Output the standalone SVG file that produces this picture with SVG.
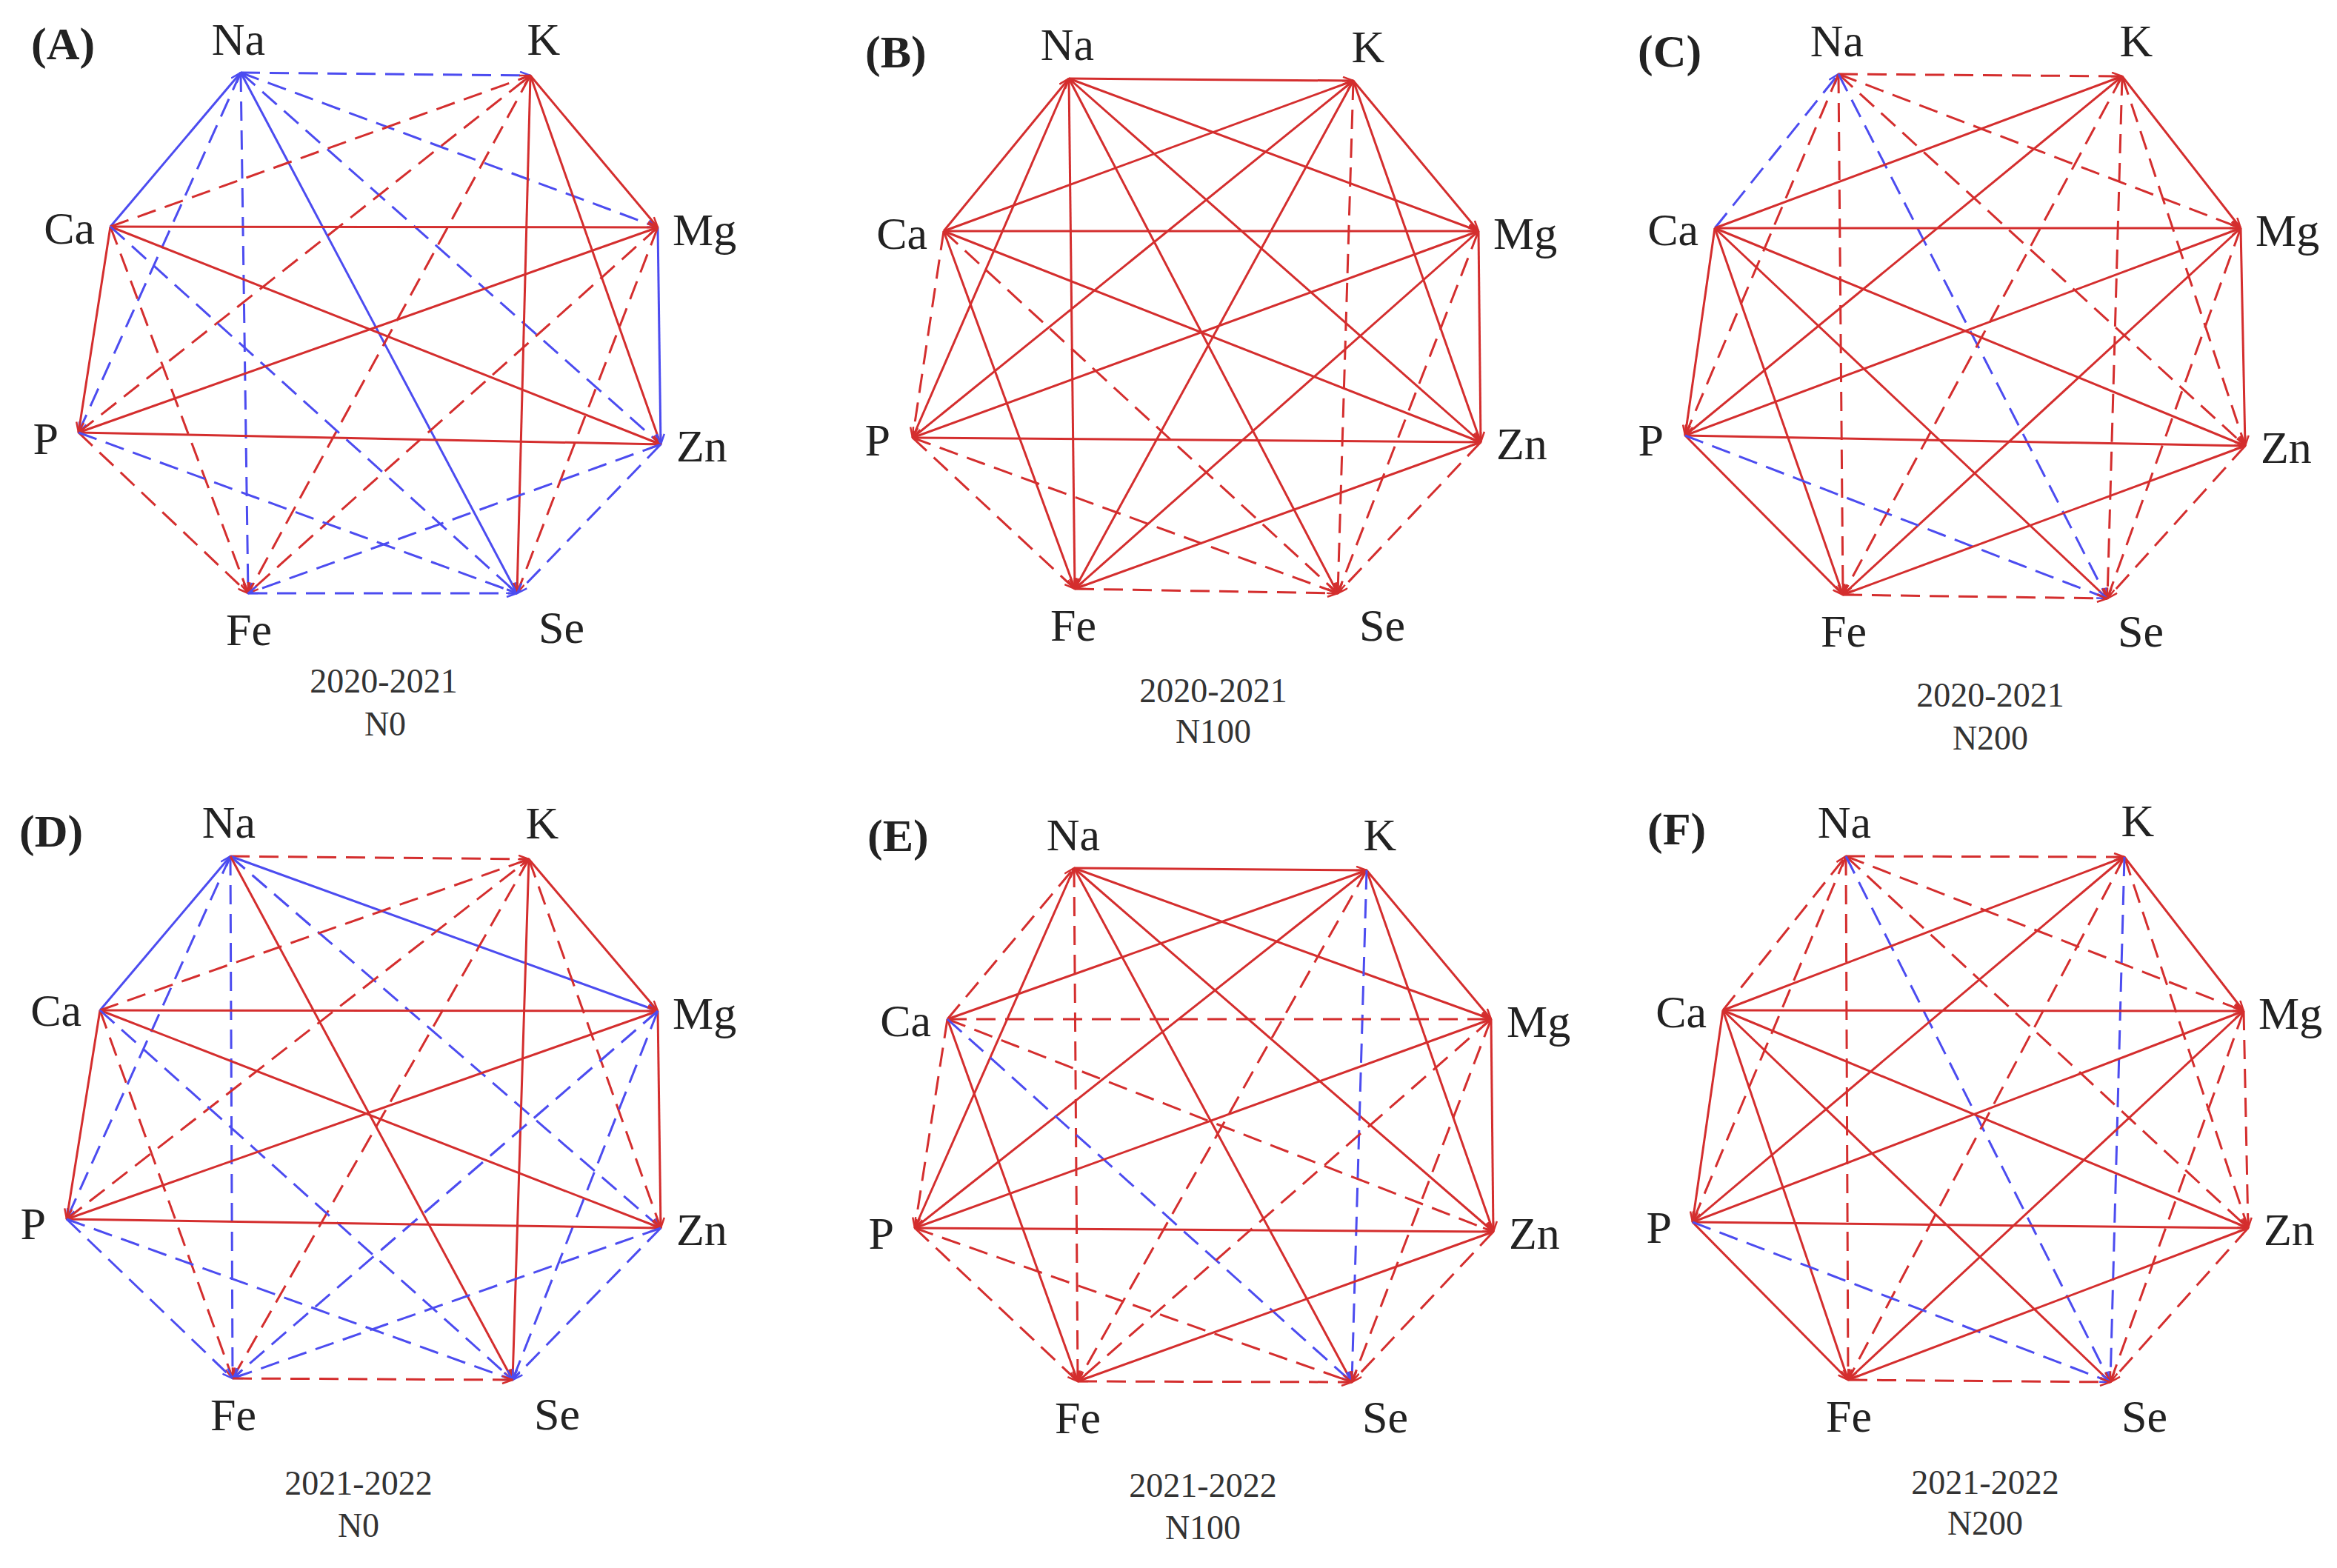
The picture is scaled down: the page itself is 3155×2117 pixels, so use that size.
<svg xmlns="http://www.w3.org/2000/svg" width="3155" height="2117" viewBox="0 0 3155 2117">
<style>
.r{stroke:#d42e2e;stroke-width:3;fill:none;marker-end:url(#ar)}
.rd{stroke:#d42e2e;stroke-width:3;fill:none;stroke-dasharray:26 13;marker-end:url(#ar)}
.b{stroke:#4c4cf0;stroke-width:3;fill:none;marker-end:url(#ab)}
.bd{stroke:#4c4cf0;stroke-width:3;fill:none;stroke-dasharray:26 13;marker-end:url(#ab)}
.lbl{font-family:"Liberation Serif","Times New Roman",serif;font-size:62px;fill:#222}
.pl{font-family:"Liberation Serif","Times New Roman",serif;font-size:62px;font-weight:bold;fill:#222}
.cap{font-family:"Liberation Serif","Times New Roman",serif;font-size:46px;fill:#333;text-anchor:middle}
</style>
<defs>
<marker id="ar" viewBox="0 0 16 12" refX="15" refY="6" markerWidth="16" markerHeight="12" markerUnits="userSpaceOnUse" orient="auto">
<path d="M1,1 L15,6 L1,11" fill="none" stroke="#d42e2e" stroke-width="2.5" stroke-dasharray="none"/>
</marker>
<marker id="ab" viewBox="0 0 16 12" refX="15" refY="6" markerWidth="16" markerHeight="12" markerUnits="userSpaceOnUse" orient="auto">
<path d="M1,1 L15,6 L1,11" fill="none" stroke="#4c4cf0" stroke-width="2.5" stroke-dasharray="none"/>
</marker>
</defs>
<rect width="3155" height="2117" fill="#ffffff"/>

<g id="connectors">
<g id="edges-A">
<line class="bd" x1="325" y1="98" x2="716" y2="102"/>
<line class="b" x1="149" y1="306" x2="325" y2="98"/>
<line class="bd" x1="325" y1="98" x2="888" y2="307"/>
<line class="bd" x1="325" y1="98" x2="106" y2="584"/>
<line class="bd" x1="325" y1="98" x2="892" y2="600"/>
<line class="bd" x1="325" y1="98" x2="335" y2="801"/>
<line class="b" x1="325" y1="98" x2="698" y2="801"/>
<line class="rd" x1="149" y1="306" x2="716" y2="102"/>
<line class="r" x1="716" y1="102" x2="888" y2="307"/>
<line class="rd" x1="106" y1="584" x2="716" y2="102"/>
<line class="r" x1="716" y1="102" x2="892" y2="600"/>
<line class="rd" x1="716" y1="102" x2="335" y2="801"/>
<line class="r" x1="716" y1="102" x2="698" y2="801"/>
<line class="r" x1="149" y1="306" x2="888" y2="307"/>
<line class="r" x1="149" y1="306" x2="106" y2="584"/>
<line class="r" x1="149" y1="306" x2="892" y2="600"/>
<line class="rd" x1="149" y1="306" x2="335" y2="801"/>
<line class="bd" x1="149" y1="306" x2="698" y2="801"/>
<line class="r" x1="106" y1="584" x2="888" y2="307"/>
<line class="b" x1="888" y1="307" x2="892" y2="600"/>
<line class="rd" x1="888" y1="307" x2="335" y2="801"/>
<line class="rd" x1="888" y1="307" x2="698" y2="801"/>
<line class="r" x1="106" y1="584" x2="892" y2="600"/>
<line class="rd" x1="106" y1="584" x2="335" y2="801"/>
<line class="bd" x1="106" y1="584" x2="698" y2="801"/>
<line class="bd" x1="892" y1="600" x2="335" y2="801"/>
<line class="bd" x1="892" y1="600" x2="698" y2="801"/>
<line class="bd" x1="335" y1="801" x2="698" y2="801"/>
</g>
<g id="edges-B">
<line class="r" x1="1443" y1="106" x2="1827" y2="109"/>
<line class="r" x1="1274" y1="312" x2="1443" y2="106"/>
<line class="r" x1="1443" y1="106" x2="1996" y2="312"/>
<line class="r" x1="1443" y1="106" x2="1232" y2="591"/>
<line class="r" x1="1443" y1="106" x2="1999" y2="597"/>
<line class="r" x1="1443" y1="106" x2="1451" y2="795"/>
<line class="r" x1="1443" y1="106" x2="1806" y2="801"/>
<line class="r" x1="1274" y1="312" x2="1827" y2="109"/>
<line class="r" x1="1827" y1="109" x2="1996" y2="312"/>
<line class="r" x1="1232" y1="591" x2="1827" y2="109"/>
<line class="r" x1="1827" y1="109" x2="1999" y2="597"/>
<line class="r" x1="1827" y1="109" x2="1451" y2="795"/>
<line class="rd" x1="1827" y1="109" x2="1806" y2="801"/>
<line class="r" x1="1274" y1="312" x2="1996" y2="312"/>
<line class="rd" x1="1274" y1="312" x2="1232" y2="591"/>
<line class="r" x1="1274" y1="312" x2="1999" y2="597"/>
<line class="r" x1="1274" y1="312" x2="1451" y2="795"/>
<line class="rd" x1="1274" y1="312" x2="1806" y2="801"/>
<line class="r" x1="1232" y1="591" x2="1996" y2="312"/>
<line class="r" x1="1996" y1="312" x2="1999" y2="597"/>
<line class="r" x1="1996" y1="312" x2="1451" y2="795"/>
<line class="rd" x1="1996" y1="312" x2="1806" y2="801"/>
<line class="r" x1="1232" y1="591" x2="1999" y2="597"/>
<line class="rd" x1="1232" y1="591" x2="1451" y2="795"/>
<line class="rd" x1="1232" y1="591" x2="1806" y2="801"/>
<line class="r" x1="1999" y1="597" x2="1451" y2="795"/>
<line class="rd" x1="1999" y1="597" x2="1806" y2="801"/>
<line class="rd" x1="1451" y1="795" x2="1806" y2="801"/>
</g>
<g id="edges-C">
<line class="rd" x1="2482" y1="100" x2="2865" y2="103"/>
<line class="bd" x1="2315" y1="308" x2="2482" y2="100"/>
<line class="rd" x1="2482" y1="100" x2="3025" y2="308"/>
<line class="rd" x1="2482" y1="100" x2="2275" y2="588"/>
<line class="rd" x1="2482" y1="100" x2="3031" y2="602"/>
<line class="rd" x1="2482" y1="100" x2="2488" y2="803"/>
<line class="bd" x1="2482" y1="100" x2="2845" y2="808"/>
<line class="r" x1="2315" y1="308" x2="2865" y2="103"/>
<line class="r" x1="2865" y1="103" x2="3025" y2="308"/>
<line class="r" x1="2275" y1="588" x2="2865" y2="103"/>
<line class="rd" x1="2865" y1="103" x2="3031" y2="602"/>
<line class="rd" x1="2865" y1="103" x2="2488" y2="803"/>
<line class="rd" x1="2865" y1="103" x2="2845" y2="808"/>
<line class="r" x1="2315" y1="308" x2="3025" y2="308"/>
<line class="r" x1="2315" y1="308" x2="2275" y2="588"/>
<line class="r" x1="2315" y1="308" x2="3031" y2="602"/>
<line class="r" x1="2315" y1="308" x2="2488" y2="803"/>
<line class="r" x1="2315" y1="308" x2="2845" y2="808"/>
<line class="r" x1="2275" y1="588" x2="3025" y2="308"/>
<line class="r" x1="3025" y1="308" x2="3031" y2="602"/>
<line class="r" x1="3025" y1="308" x2="2488" y2="803"/>
<line class="rd" x1="3025" y1="308" x2="2845" y2="808"/>
<line class="r" x1="2275" y1="588" x2="3031" y2="602"/>
<line class="r" x1="2275" y1="588" x2="2488" y2="803"/>
<line class="bd" x1="2275" y1="588" x2="2845" y2="808"/>
<line class="r" x1="3031" y1="602" x2="2488" y2="803"/>
<line class="rd" x1="3031" y1="602" x2="2845" y2="808"/>
<line class="rd" x1="2488" y1="803" x2="2845" y2="808"/>
</g>
<g id="edges-D">
<line class="rd" x1="311" y1="1156" x2="714" y2="1160"/>
<line class="b" x1="135" y1="1364" x2="311" y2="1156"/>
<line class="b" x1="311" y1="1156" x2="888" y2="1365"/>
<line class="bd" x1="311" y1="1156" x2="90" y2="1646"/>
<line class="bd" x1="311" y1="1156" x2="892" y2="1658"/>
<line class="bd" x1="311" y1="1156" x2="314" y2="1861"/>
<line class="r" x1="311" y1="1156" x2="692" y2="1863"/>
<line class="rd" x1="135" y1="1364" x2="714" y2="1160"/>
<line class="r" x1="714" y1="1160" x2="888" y2="1365"/>
<line class="rd" x1="90" y1="1646" x2="714" y2="1160"/>
<line class="rd" x1="714" y1="1160" x2="892" y2="1658"/>
<line class="rd" x1="714" y1="1160" x2="314" y2="1861"/>
<line class="r" x1="714" y1="1160" x2="692" y2="1863"/>
<line class="r" x1="135" y1="1364" x2="888" y2="1365"/>
<line class="r" x1="135" y1="1364" x2="90" y2="1646"/>
<line class="r" x1="135" y1="1364" x2="892" y2="1658"/>
<line class="rd" x1="135" y1="1364" x2="314" y2="1861"/>
<line class="bd" x1="135" y1="1364" x2="692" y2="1863"/>
<line class="r" x1="90" y1="1646" x2="888" y2="1365"/>
<line class="r" x1="888" y1="1365" x2="892" y2="1658"/>
<line class="bd" x1="888" y1="1365" x2="314" y2="1861"/>
<line class="bd" x1="888" y1="1365" x2="692" y2="1863"/>
<line class="r" x1="90" y1="1646" x2="892" y2="1658"/>
<line class="bd" x1="90" y1="1646" x2="314" y2="1861"/>
<line class="bd" x1="90" y1="1646" x2="692" y2="1863"/>
<line class="bd" x1="892" y1="1658" x2="314" y2="1861"/>
<line class="bd" x1="892" y1="1658" x2="692" y2="1863"/>
<line class="rd" x1="314" y1="1861" x2="692" y2="1863"/>
</g>
<g id="edges-E">
<line class="r" x1="1450" y1="1172" x2="1845" y2="1175"/>
<line class="rd" x1="1279" y1="1376" x2="1450" y2="1172"/>
<line class="r" x1="1450" y1="1172" x2="2013" y2="1376"/>
<line class="r" x1="1450" y1="1172" x2="1235" y2="1658"/>
<line class="r" x1="1450" y1="1172" x2="2016" y2="1663"/>
<line class="rd" x1="1450" y1="1172" x2="1455" y2="1865"/>
<line class="r" x1="1450" y1="1172" x2="1825" y2="1866"/>
<line class="r" x1="1279" y1="1376" x2="1845" y2="1175"/>
<line class="r" x1="1845" y1="1175" x2="2013" y2="1376"/>
<line class="r" x1="1235" y1="1658" x2="1845" y2="1175"/>
<line class="r" x1="1845" y1="1175" x2="2016" y2="1663"/>
<line class="rd" x1="1845" y1="1175" x2="1455" y2="1865"/>
<line class="bd" x1="1845" y1="1175" x2="1825" y2="1866"/>
<line class="rd" x1="1279" y1="1376" x2="2013" y2="1376"/>
<line class="rd" x1="1279" y1="1376" x2="1235" y2="1658"/>
<line class="rd" x1="1279" y1="1376" x2="2016" y2="1663"/>
<line class="r" x1="1279" y1="1376" x2="1455" y2="1865"/>
<line class="bd" x1="1279" y1="1376" x2="1825" y2="1866"/>
<line class="r" x1="1235" y1="1658" x2="2013" y2="1376"/>
<line class="r" x1="2013" y1="1376" x2="2016" y2="1663"/>
<line class="rd" x1="2013" y1="1376" x2="1455" y2="1865"/>
<line class="rd" x1="2013" y1="1376" x2="1825" y2="1866"/>
<line class="r" x1="1235" y1="1658" x2="2016" y2="1663"/>
<line class="rd" x1="1235" y1="1658" x2="1455" y2="1865"/>
<line class="rd" x1="1235" y1="1658" x2="1825" y2="1866"/>
<line class="r" x1="2016" y1="1663" x2="1455" y2="1865"/>
<line class="rd" x1="2016" y1="1663" x2="1825" y2="1866"/>
<line class="rd" x1="1455" y1="1865" x2="1825" y2="1866"/>
</g>
<g id="edges-F">
<line class="rd" x1="2492" y1="1156" x2="2868" y2="1157"/>
<line class="rd" x1="2326" y1="1364" x2="2492" y2="1156"/>
<line class="rd" x1="2492" y1="1156" x2="3029" y2="1365"/>
<line class="rd" x1="2492" y1="1156" x2="2285" y2="1650"/>
<line class="rd" x1="2492" y1="1156" x2="3035" y2="1658"/>
<line class="rd" x1="2492" y1="1156" x2="2495" y2="1863"/>
<line class="bd" x1="2492" y1="1156" x2="2849" y2="1866"/>
<line class="r" x1="2326" y1="1364" x2="2868" y2="1157"/>
<line class="r" x1="2868" y1="1157" x2="3029" y2="1365"/>
<line class="r" x1="2285" y1="1650" x2="2868" y2="1157"/>
<line class="rd" x1="2868" y1="1157" x2="3035" y2="1658"/>
<line class="rd" x1="2868" y1="1157" x2="2495" y2="1863"/>
<line class="bd" x1="2868" y1="1157" x2="2849" y2="1866"/>
<line class="r" x1="2326" y1="1364" x2="3029" y2="1365"/>
<line class="r" x1="2326" y1="1364" x2="2285" y2="1650"/>
<line class="r" x1="2326" y1="1364" x2="3035" y2="1658"/>
<line class="r" x1="2326" y1="1364" x2="2495" y2="1863"/>
<line class="r" x1="2326" y1="1364" x2="2849" y2="1866"/>
<line class="r" x1="2285" y1="1650" x2="3029" y2="1365"/>
<line class="rd" x1="3029" y1="1365" x2="3035" y2="1658"/>
<line class="r" x1="3029" y1="1365" x2="2495" y2="1863"/>
<line class="rd" x1="3029" y1="1365" x2="2849" y2="1866"/>
<line class="r" x1="2285" y1="1650" x2="3035" y2="1658"/>
<line class="r" x1="2285" y1="1650" x2="2495" y2="1863"/>
<line class="bd" x1="2285" y1="1650" x2="2849" y2="1866"/>
<line class="r" x1="3035" y1="1658" x2="2495" y2="1863"/>
<line class="rd" x1="3035" y1="1658" x2="2849" y2="1866"/>
<line class="rd" x1="2495" y1="1863" x2="2849" y2="1866"/>
</g>
</g>

<g id="panel-A">
<text class="pl" x="42" y="80">(A)</text>
<g id="A-Na"><text class="lbl" x="322" y="74" text-anchor="middle">Na</text></g>
<g id="A-K"><text class="lbl" x="734" y="74" text-anchor="middle">K</text></g>
<g id="A-Ca"><text class="lbl" x="128" y="329" text-anchor="end">Ca</text></g>
<g id="A-Mg"><text class="lbl" x="908" y="331">Mg</text></g>
<g id="A-P"><text class="lbl" x="79" y="613" text-anchor="end">P</text></g>
<g id="A-Zn"><text class="lbl" x="913" y="623">Zn</text></g>
<g id="A-Fe"><text class="lbl" x="336" y="871" text-anchor="middle">Fe</text></g>
<g id="A-Se"><text class="lbl" x="758" y="868" text-anchor="middle">Se</text></g>
<text class="cap" x="518" y="935">2020-2021</text>
<text class="cap" x="520" y="993">N0</text>
</g>

<g id="panel-B">
<text class="pl" x="1168" y="91">(B)</text>
<g id="B-Na"><text class="lbl" x="1441" y="81" text-anchor="middle">Na</text></g>
<g id="B-K"><text class="lbl" x="1847" y="84" text-anchor="middle">K</text></g>
<g id="B-Ca"><text class="lbl" x="1252" y="336" text-anchor="end">Ca</text></g>
<g id="B-Mg"><text class="lbl" x="2016" y="336">Mg</text></g>
<g id="B-P"><text class="lbl" x="1202" y="615" text-anchor="end">P</text></g>
<g id="B-Zn"><text class="lbl" x="2020" y="620">Zn</text></g>
<g id="B-Fe"><text class="lbl" x="1449" y="865" text-anchor="middle">Fe</text></g>
<g id="B-Se"><text class="lbl" x="1866" y="865" text-anchor="middle">Se</text></g>
<text class="cap" x="1638" y="948">2020-2021</text>
<text class="cap" x="1638" y="1003">N100</text>
</g>

<g id="panel-C">
<text class="pl" x="2211" y="90">(C)</text>
<g id="C-Na"><text class="lbl" x="2480" y="76" text-anchor="middle">Na</text></g>
<g id="C-K"><text class="lbl" x="2884" y="76" text-anchor="middle">K</text></g>
<g id="C-Ca"><text class="lbl" x="2293" y="331" text-anchor="end">Ca</text></g>
<g id="C-Mg"><text class="lbl" x="3045" y="332">Mg</text></g>
<g id="C-P"><text class="lbl" x="2246" y="615" text-anchor="end">P</text></g>
<g id="C-Zn"><text class="lbl" x="3052" y="625">Zn</text></g>
<g id="C-Fe"><text class="lbl" x="2489" y="873" text-anchor="middle">Fe</text></g>
<g id="C-Se"><text class="lbl" x="2890" y="873" text-anchor="middle">Se</text></g>
<text class="cap" x="2687" y="954">2020-2021</text>
<text class="cap" x="2687" y="1012">N200</text>
</g>

<g id="panel-D">
<text class="pl" x="26" y="1143">(D)</text>
<g id="D-Na"><text class="lbl" x="309" y="1131" text-anchor="middle">Na</text></g>
<g id="D-K"><text class="lbl" x="732" y="1132" text-anchor="middle">K</text></g>
<g id="D-Ca"><text class="lbl" x="110" y="1385" text-anchor="end">Ca</text></g>
<g id="D-Mg"><text class="lbl" x="908" y="1389">Mg</text></g>
<g id="D-P"><text class="lbl" x="62" y="1673" text-anchor="end">P</text></g>
<g id="D-Zn"><text class="lbl" x="913" y="1681">Zn</text></g>
<g id="D-Fe"><text class="lbl" x="315" y="1931" text-anchor="middle">Fe</text></g>
<g id="D-Se"><text class="lbl" x="752" y="1930" text-anchor="middle">Se</text></g>
<text class="cap" x="484" y="2018">2021-2022</text>
<text class="cap" x="484" y="2075">N0</text>
</g>

<g id="panel-E">
<text class="pl" x="1171" y="1149">(E)</text>
<g id="E-Na"><text class="lbl" x="1449" y="1148" text-anchor="middle">Na</text></g>
<g id="E-K"><text class="lbl" x="1863" y="1148" text-anchor="middle">K</text></g>
<g id="E-Ca"><text class="lbl" x="1257" y="1399" text-anchor="end">Ca</text></g>
<g id="E-Mg"><text class="lbl" x="2034" y="1400">Mg</text></g>
<g id="E-P"><text class="lbl" x="1207" y="1686" text-anchor="end">P</text></g>
<g id="E-Zn"><text class="lbl" x="2037" y="1686">Zn</text></g>
<g id="E-Fe"><text class="lbl" x="1455" y="1935" text-anchor="middle">Fe</text></g>
<g id="E-Se"><text class="lbl" x="1870" y="1934" text-anchor="middle">Se</text></g>
<text class="cap" x="1624" y="2021">2021-2022</text>
<text class="cap" x="1624" y="2078">N100</text>
</g>

<g id="panel-F">
<text class="pl" x="2224" y="1140">(F)</text>
<g id="F-Na"><text class="lbl" x="2490" y="1131" text-anchor="middle">Na</text></g>
<g id="F-K"><text class="lbl" x="2886" y="1129" text-anchor="middle">K</text></g>
<g id="F-Ca"><text class="lbl" x="2304" y="1387" text-anchor="end">Ca</text></g>
<g id="F-Mg"><text class="lbl" x="3049" y="1389">Mg</text></g>
<g id="F-P"><text class="lbl" x="2257" y="1678" text-anchor="end">P</text></g>
<g id="F-Zn"><text class="lbl" x="3056" y="1681">Zn</text></g>
<g id="F-Fe"><text class="lbl" x="2496" y="1933" text-anchor="middle">Fe</text></g>
<g id="F-Se"><text class="lbl" x="2895" y="1933" text-anchor="middle">Se</text></g>
<text class="cap" x="2680" y="2017">2021-2022</text>
<text class="cap" x="2680" y="2072">N200</text>
</g>
</svg>
